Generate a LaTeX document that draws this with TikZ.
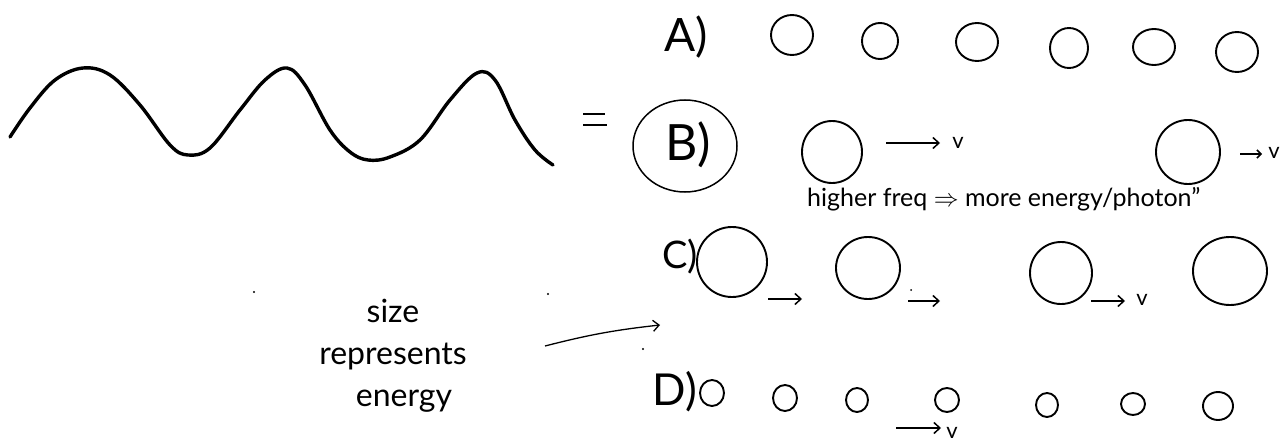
\documentclass[tikz,border=0pt]{standalone}
\usepackage{fontspec}
\setmainfont{Lato}
\usetikzlibrary{arrows.meta,shapes.geometric}
\newcommand\photon[4]{\node[ball,minimum width=#3pt,minimum height=#4pt] (#1) at #2 {};}
\begin{document}
\begin{tikzpicture}[x=1pt,y=-1pt,
  ball/.style={draw,ellipse,line width=1.9pt,inner sep=0pt},
  hand/.style={font=\fontsize{22}{26}\selectfont,inner sep=0pt},
  biglbl/.style={font=\fontsize{46}{50}\selectfont,inner sep=0pt},
  arr/.style={-{Straight Barb[length=6pt,width=11pt]},line width=1.5pt},
  wave/.style={line width=3.4pt,line cap=round,line join=round}]
\useasboundingbox (0,0) rectangle (1288,444);

% wave
\draw[wave] plot[smooth,tension=0.6] coordinates {(10,137) (30,108) (55,80) (83,68) (110,75) (140,105) (170,145) (188,155) (210,148) (240,110) (265,80) (287,68) (305,85) (330,130) (350,152) (368,160) (390,157) (420,140) (450,100) (477,73) (495,80) (515,120) (535,150) (553,165)};

% equals sign
\coordinate (eq1a) at (583,114); \coordinate (eq1b) at (605,114);
\coordinate (eq2a) at (583,125); \coordinate (eq2b) at (607,125);
\draw[line width=2.6pt] (eq1a) -- (eq1b);
\draw[line width=2.6pt] (eq2a) -- (eq2b);

% row A
\node[biglbl] (labA) at (686,37) {A)};
\photon{a1}{(792,35)}{42}{40}
\photon{a2}{(880,41)}{36}{36}
\photon{a3}{(977,42)}{42}{38}
\photon{a4}{(1069,48)}{38}{40}
\photon{a5}{(1154,47)}{42}{36}
\photon{a6}{(1237,52)}{42}{40}

% row B
\node[draw,ellipse,line width=1.5pt,minimum width=104pt,minimum height=92pt,inner sep=0pt] (ringB) at (685,146) {};
\node[biglbl,font=\fontsize{50}{54}\selectfont] (labB) at (688,145) {B)};
\photon{b1}{(832,152)}{60}{62}
\photon{b2}{(1188,152)}{64}{64}
\coordinate (b1s) at (886,143); \coordinate (b1e) at (940,143);
\draw[arr] (b1s) -- (b1e);
\node[hand] (b1v) at (958,143) {v};
\coordinate (b2s) at (1240,154); \coordinate (b2e) at (1262,154);
\draw[arr,-{Straight Barb[length=4pt,width=8pt]}] (b2s) -- (b2e);
\node[hand] (b2v) at (1274,153) {v};
\node[hand,font=\fontsize{25}{29}\selectfont,anchor=base west] (freq) at (807,206) {higher freq $\Rightarrow$ more energy/photon''};

% row C
\node[biglbl,font=\fontsize{38}{42}\selectfont] (labC) at (680,257) {C)};
\photon{c1}{(732,262)}{70}{70}
\photon{c2}{(868,268)}{64}{62}
\photon{c3}{(1061,273)}{62}{62}
\photon{c4}{(1230,271)}{74}{68}
\coordinate (c1s) at (768,299); \coordinate (c1e) at (802,299);
\draw[arr] (c1s) -- (c1e);
\coordinate (c2s) at (908,301); \coordinate (c2e) at (940,301);
\draw[arr] (c2s) -- (c2e);
\coordinate (c3s) at (1091,301); \coordinate (c3e) at (1125,301);
\draw[arr] (c3s) -- (c3e);
\node[hand] (c3v) at (1142,300) {v};

% row D
\node[biglbl,font=\fontsize{44}{48}\selectfont] (labD) at (675,392) {D)};
\photon{d1}{(712,393)}{24}{26}
\photon{d2}{(785,398)}{24}{26}
\photon{d3}{(857,400)}{22}{24}
\photon{d4}{(947,400)}{24}{24}
\photon{d5}{(1047,405)}{22}{24}
\photon{d6}{(1133,404)}{24}{22}
\photon{d7}{(1218,406)}{30}{28}
\coordinate (d4s) at (896,428); \coordinate (d4e) at (941,428);
\draw[arr] (d4s) -- (d4e);
\node[hand] (d4v) at (952,433) {v};

% annotation
\node[font=\fontsize{32}{42}\selectfont,align=center,inner sep=0pt] (note) at (393,356) {size\\represents\\\hspace*{22pt}energy};
\coordinate (ns) at (545,346); \coordinate (ne) at (660,325);
\draw[arr,line width=1.3pt] (ns) to[bend left=4] (ne);

% stray specks
\fill (254,292) circle (1.2pt);
\fill (548,294) circle (1.2pt);
\fill (643,349) circle (1.2pt);
\fill (911,290) circle (1pt);
\end{tikzpicture}
\end{document}
